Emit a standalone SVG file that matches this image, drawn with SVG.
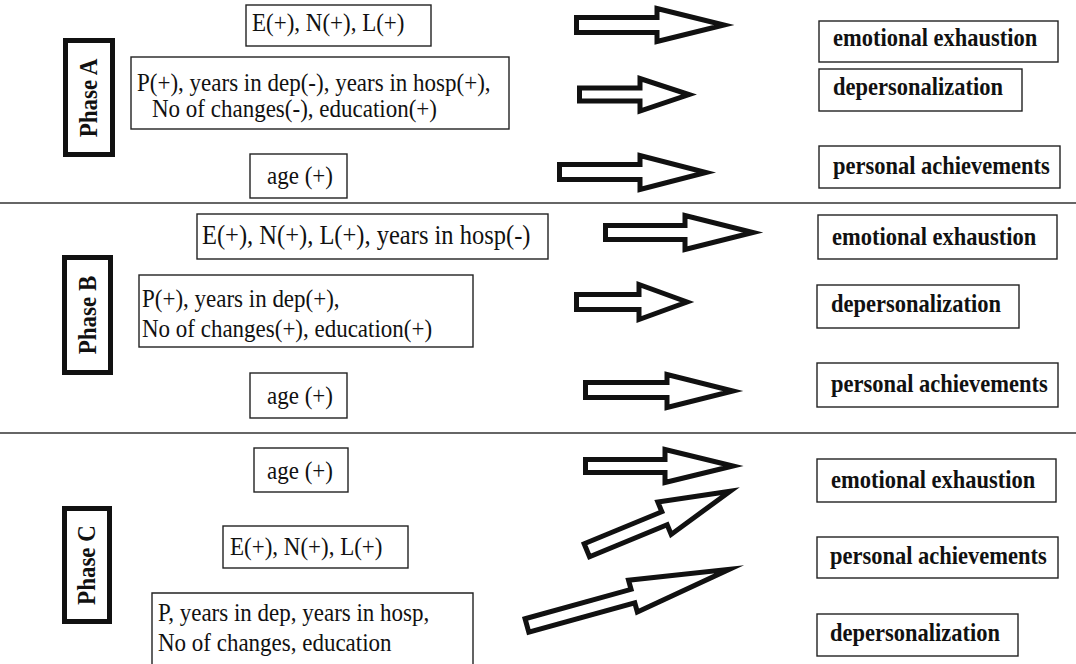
<svg xmlns="http://www.w3.org/2000/svg" width="1076" height="664" viewBox="0 0 1076 664">
<style>
.bg{fill:#fff}
.box{fill:#fff;stroke:#222;stroke-width:1.4}
.phase{fill:#fff;stroke:#111;stroke-width:5}
.sep{stroke:#333;stroke-width:1.6}
.t{font-family:"Liberation Serif","Times New Roman",serif;font-size:23px;fill:#111}
.b{font-family:"Liberation Serif","Times New Roman",serif;font-size:22.5px;font-weight:bold;fill:#111}
.p{font-family:"Liberation Serif","Times New Roman",serif;font-size:23px;font-weight:bold;fill:#111;text-anchor:middle}
.arr{fill:#fff;stroke:#111;stroke-width:5;stroke-linejoin:miter;stroke-miterlimit:10}
</style>
<rect class="bg" x="0" y="0" width="1076" height="664"/>
<g id="separators">
<line class="sep" x1="0" y1="203" x2="1076" y2="203"/>
<line class="sep" x1="0" y1="433" x2="1076" y2="433"/>
</g>
<g id="phaseA">
<rect class="phase" x="65.5" y="40.5" width="47" height="114"/>
<text class="p" transform="translate(97,98) rotate(-90) scale(1,1.1)">Phase A</text>
</g>
<g id="phaseB">
<rect class="phase" x="64.5" y="257.5" width="46" height="115"/>
<text class="p" transform="translate(96,315) rotate(-90) scale(1,1.1)">Phase B</text>
</g>
<g id="phaseC">
<rect class="phase" x="64.5" y="508.5" width="45" height="113"/>
<text class="p" transform="translate(95,565) rotate(-90) scale(1,1.1)">Phase C</text>
</g>
<g id="a-enl">
<rect class="box" x="246" y="5" width="185" height="41"/>
<text class="t" transform="translate(252,31) scale(1,1.1)">E(+), N(+), L(+)</text>
</g>
<g id="a-p">
<rect class="box" x="131" y="57" width="378" height="72"/>
<text class="t" transform="translate(137,91) scale(1,1.05)">P(+), years in dep(-), years in hosp(+),</text>
<text class="t" transform="translate(152,117) scale(1,1.05)">No of changes(-), education(+)</text>
</g>
<g id="a-age">
<rect class="box" x="250" y="154" width="97" height="44"/>
<text class="t" transform="translate(267,184) scale(1,1.1)">age (+)</text>
</g>
<g id="a-ee">
<rect class="box" x="819" y="21" width="239" height="41"/>
<text class="b" transform="translate(833,46) scale(1,1.1)">emotional exhaustion</text>
</g>
<g id="a-dp">
<rect class="box" x="819" y="69" width="203" height="42"/>
<text class="b" transform="translate(833,95) scale(1,1.1)">depersonalization</text>
</g>
<g id="a-pa">
<rect class="box" x="819" y="146" width="241" height="42"/>
<text class="b" transform="translate(833,174) scale(1,1.1)">personal achievements</text>
</g>
<g id="b-enl">
<rect class="box" x="197" y="214" width="351" height="45"/>
<text class="t" transform="translate(202,244) scale(1,1.1)" style="font-size:24.5px">E(+), N(+), L(+), years in hosp(-)</text>
</g>
<g id="b-p">
<rect class="box" x="139" y="275" width="334" height="72"/>
<text class="t" transform="translate(142,307) scale(1,1.1)">P(+), years in dep(+),</text>
<text class="t" transform="translate(142,337) scale(1,1.1)">No of changes(+), education(+)</text>
</g>
<g id="b-age">
<rect class="box" x="250" y="373" width="97" height="45"/>
<text class="t" transform="translate(267,404) scale(1,1.1)">age (+)</text>
</g>
<g id="b-ee">
<rect class="box" x="818" y="215" width="239" height="44"/>
<text class="b" transform="translate(832,245) scale(1,1.1)">emotional exhaustion</text>
</g>
<g id="b-dp">
<rect class="box" x="817" y="285" width="202" height="43"/>
<text class="b" transform="translate(831,312) scale(1,1.1)">depersonalization</text>
</g>
<g id="b-pa">
<rect class="box" x="817" y="363" width="241" height="44"/>
<text class="b" transform="translate(831,392) scale(1,1.1)">personal achievements</text>
</g>
<g id="c-age">
<rect class="box" x="254" y="448" width="94" height="44"/>
<text class="t" transform="translate(267,479) scale(1,1.1)">age (+)</text>
</g>
<g id="c-enl">
<rect class="box" x="223" y="526" width="185" height="42"/>
<text class="t" transform="translate(230,555) scale(1,1.1)">E(+), N(+), L(+)</text>
</g>
<g id="c-p">
<path class="box" d="M152,670 V593 H473 V670" fill="none"/>
<text class="t" transform="translate(158,621) scale(1,1.1)">P, years in dep, years in hosp,</text>
<text class="t" transform="translate(158,651) scale(1,1.1)">No of changes, education</text>
</g>
<g id="c-ee">
<rect class="box" x="817" y="459" width="239" height="43"/>
<text class="b" transform="translate(831,488) scale(1,1.1)">emotional exhaustion</text>
</g>
<g id="c-pa">
<rect class="box" x="817" y="537" width="241" height="41"/>
<text class="b" transform="translate(830,564) scale(1,1.1)">personal achievements</text>
</g>
<g id="c-dp">
<rect class="box" x="817" y="614" width="201" height="42"/>
<text class="b" transform="translate(830,641) scale(1,1.1)">depersonalization</text>
</g>
<g id="connectors">
<polygon class="arr" points="576.5,17.5 657,17.5 657,8.5 724,25 657,41.5 657,32.5 576.5,32.5"/>
<polygon class="arr" points="579.5,88 640,88 640,78.5 689,94.5 640,111 640,101 579.5,101"/>
<polygon class="arr" points="559.5,164.5 640,164.5 640,155.5 706,172.5 640,189.5 640,179.5 559.5,179.5"/>
<polygon class="arr" points="605.5,225.5 685,225.5 685,215.5 753,232.5 685,249.5 685,239.5 605.5,239.5"/>
<polygon class="arr" points="576.5,294.5 639,294.5 639,284.5 687,302 639,319.5 639,309.5 576.5,309.5"/>
<polygon class="arr" points="585.5,382.5 667,382.5 667,374.5 733,391 667,407.5 667,397.5 585.5,397.5"/>
<polygon class="arr" points="585.5,459.5 665,459.5 665,449.5 733,466 665,482.5 665,472.5 585.5,472.5"/>
<polygon class="arr" transform="translate(585,551) rotate(-22.4)" points="2,-7 86,-7 86,-17.5 157,0 86,17.5 86,7 2,7"/>
<polygon class="arr" transform="translate(525,626) rotate(-15.5)" points="2,-7 112,-7 112,-16.5 212,0 112,16.5 112,7 2,7"/>
</g>
</svg>
